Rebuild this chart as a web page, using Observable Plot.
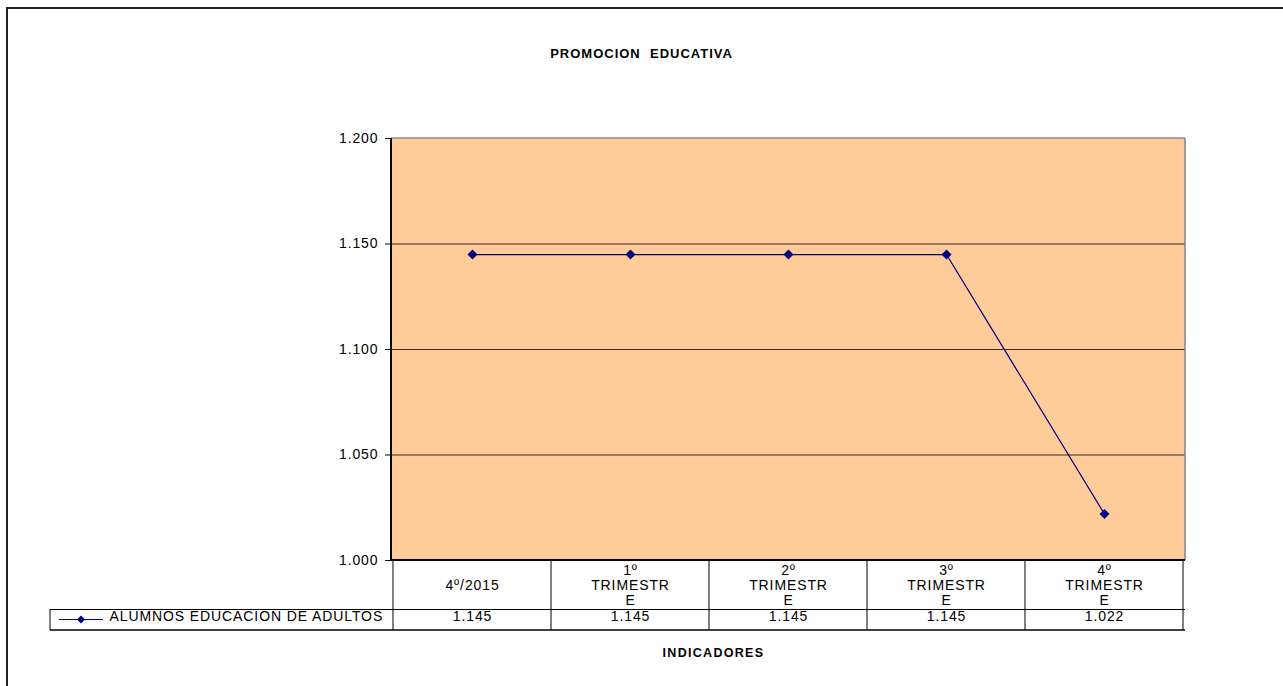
<!DOCTYPE html>
<html><head><meta charset="utf-8">
<script src="https://cdn.jsdelivr.net/npm/d3@7"></script>
<script src="https://cdn.jsdelivr.net/npm/@observablehq/plot@0.6"></script>
<style>
body{margin:0;background:#fff;}
#wrap{position:relative;width:1283px;height:686px;overflow:hidden;}
#border{position:absolute;left:6px;top:7px;width:1400px;height:800px;border-top:2px solid #222;border-left:2px solid #222;pointer-events:none;}
#wrap svg text{letter-spacing:0.9px;}
#wrap svg .ttl text{letter-spacing:1px;}
#wrap svg .xttl text{letter-spacing:1.3px;}
</style></head><body><div id="wrap"><div id="border"></div></div>
<script>
const title = "PROMOCION  EDUCATIVA";
const xTitle = "INDICADORES";
const seriesName = "ALUMNOS EDUCACION DE ADULTOS";
const categories = ["4º/2015", "1º\nTRIMESTR\nE", "2º\nTRIMESTR\nE", "3º\nTRIMESTR\nE", "4º\nTRIMESTR\nE"];
const values = [1145, 1145, 1145, 1145, 1022];
const yTicks = [1000, 1050, 1100, 1150, 1200];
const gridValues = [1050, 1100, 1150];

const data = categories.map((c, i) => ({cat: c, value: values[i]}));
const loc = d3.formatLocale({decimal: ",", thousands: ".", grouping: [3], currency: ["", "€"]});
const fmt = loc.format(",d");

const navy = "#000080";
const diamond = {draw(ctx, size) { const h = Math.sqrt(size / 2); ctx.moveTo(0, -h); ctx.lineTo(h, 0); ctx.lineTo(0, h); ctx.lineTo(-h, 0); ctx.closePath(); }};

function tableMark(index, scales, values, dim) {
  const x = scales.x;
  const bw = x(categories[1]) - x(categories[0]);
  const edges = categories.map(c => x(c)).concat([x(categories[categories.length - 1]) + bw]);
  const left = dim.marginLeft, right = dim.width - dim.marginRight;
  const top = dim.marginTop, bottom = dim.height - dim.marginBottom;
  const r1 = bottom + 49, r2 = bottom + 70, legL = 50;
  const g = d3.create("svg:g").attr("fill", "none");
  g.append("line").attr("x1", left).attr("x2", right).attr("y1", top).attr("y2", top).attr("stroke", "#888").attr("stroke-width", 1.5);
  g.append("line").attr("x1", right).attr("x2", right).attr("y1", top).attr("y2", bottom).attr("stroke", "#888").attr("stroke-width", 1.5);
  g.append("line").attr("x1", left).attr("x2", left).attr("y1", top).attr("y2", bottom).attr("stroke", "#000").attr("stroke-width", 2);
  g.append("line").attr("x1", left).attr("x2", right).attr("y1", bottom).attr("y2", bottom).attr("stroke", "#000").attr("stroke-width", 2);
  for (const e of edges) g.append("line").attr("x1", e).attr("x2", e).attr("y1", bottom).attr("y2", r2).attr("stroke", "#000");
  g.append("line").attr("x1", legL).attr("x2", legL).attr("y1", r1).attr("y2", r2).attr("stroke", "#000");
  g.append("line").attr("x1", legL).attr("x2", right).attr("y1", r1 + 0.5).attr("y2", r1 + 0.5).attr("stroke", "#000");
  g.append("line").attr("x1", legL).attr("x2", right).attr("y1", r2).attr("y2", r2).attr("stroke", "#000").attr("stroke-width", 1.5);
  const ly = (r1 + r2) / 2;
  g.append("line").attr("x1", 59).attr("x2", 103).attr("y1", ly).attr("y2", ly).attr("stroke", navy).attr("stroke-width", 1.2);
  g.append("path").attr("d", "M81," + (ly - 4) + "L85," + ly + "L81," + (ly + 4) + "L77," + ly + "Z").attr("fill", navy);
  return g.node();
}

const plot = Plot.plot({
  width: 1283, height: 686,
  marginLeft: 391, marginRight: 98, marginTop: 138, marginBottom: 126,
  style: {fontFamily: "'Liberation Sans', Arial, sans-serif", fontSize: "14px", background: "transparent", overflow: "visible", color: "#000"},
  x: {type: "band", domain: categories, padding: 0, axis: null},
  y: {domain: [1000, 1200], axis: null},
  marks: [
    Plot.frame({fill: "#FFCC99", stroke: null}),
    Plot.ruleY(gridValues, {stroke: "#000", strokeOpacity: 0.8}),
    Plot.axisY({ticks: yTicks, tickFormat: fmt, tickSize: 6, tickPadding: 7, label: null, fontSize: 14, stroke: "#000"}),
    tableMark,
    Plot.line(data, {x: "cat", y: "value", stroke: navy, strokeWidth: 1.2}),
    Plot.dot(data, {x: "cat", y: "value", symbol: diamond, fill: navy, stroke: null, r: 4}),
    Plot.text(data, {x: "cat", text: "cat", frameAnchor: "bottom", dy: 24.5, lineAnchor: "middle", lineHeight: 1.1, fontSize: 14}),
    Plot.text(data, {x: "cat", text: d => fmt(d.value), frameAnchor: "bottom", dy: 60, fontSize: 14}),
    Plot.text([seriesName], {frameAnchor: "bottom-left", dx: 109 - 391, dy: 60, textAnchor: "start", fontSize: 14}),
    Plot.text([title], {frameAnchor: "top-left", dx: 641 - 391, dy: 48 - 138, textAnchor: "middle", fontWeight: "bold", fontSize: 13, className: "ttl"}),
    Plot.text([xTitle], {frameAnchor: "bottom-left", dx: 713 - 391, dy: 656 - 560, textAnchor: "middle", fontWeight: "bold", fontSize: 12.5, className: "xttl"})
  ]
});
document.getElementById("wrap").insertBefore(plot, document.getElementById("border"));
</script></body></html>
